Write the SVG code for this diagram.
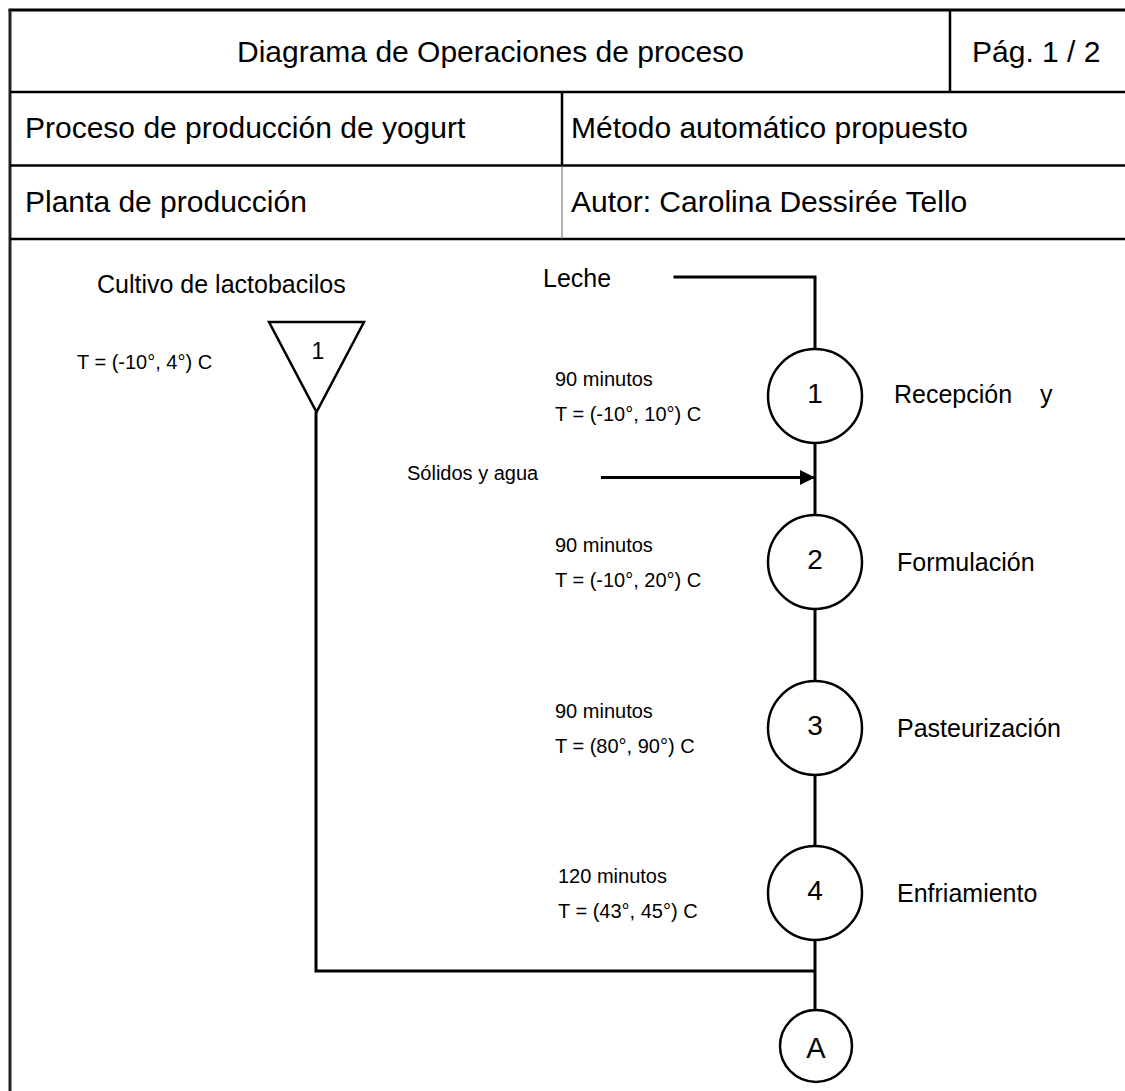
<svg xmlns="http://www.w3.org/2000/svg" width="1125" height="1091" viewBox="0 0 1125 1091">
  <style>
    text { font-family: "Liberation Sans", Arial, sans-serif; fill: #000; }
    .hdr { font-size: 30px; }
    .lbl { font-size: 25px; }
    .note { font-size: 20px; }
    .num { font-size: 28px; text-anchor: middle; }
    .frame { stroke: #000; stroke-width: 2.5; fill: none; }
    .flow { stroke: #000; stroke-width: 3; fill: none; }
    .op { stroke: #000; stroke-width: 2.5; fill: #fff; }
  </style>
  <defs>
    <marker id="arrow" markerUnits="userSpaceOnUse" markerWidth="16" markerHeight="16" refX="15" refY="7.5" orient="auto">
      <path d="M0,0 L15,7.5 L0,15 Z" fill="#000"/>
    </marker>
  </defs>

  <rect width="1125" height="1091" fill="#fff"/>

  <!-- header table -->
  <g id="header">
    <line x1="8.5" y1="10" x2="1125" y2="10" stroke="#000" stroke-width="3"/>
    <line x1="10" y1="10" x2="10" y2="1091" stroke="#222" stroke-width="3"/>
    <line class="frame" x1="10" y1="92" x2="1125" y2="92"/>
    <line class="frame" x1="10" y1="165.5" x2="1125" y2="165.5"/>
    <line class="frame" x1="10" y1="239" x2="1125" y2="239"/>
    <line class="frame" x1="950" y1="10" x2="950" y2="92"/>
    <line class="frame" x1="562" y1="92" x2="562" y2="165.5"/>
    <line x1="562" y1="165.5" x2="562" y2="239" stroke="#666" stroke-width="1"/>
    <text class="hdr" x="237" y="62">Diagrama de Operaciones de proceso</text>
    <text class="hdr" x="972" y="62">Pág. 1 / 2</text>
    <text class="hdr" x="25" y="138">Proceso de producción de yogurt</text>
    <text class="hdr" x="571" y="138">Método automático propuesto</text>
    <text class="hdr" x="25" y="212">Planta de producción</text>
    <text class="hdr" x="571" y="212">Autor: Carolina Dessirée Tello</text>
  </g>

  <!-- connectors -->
  <g id="connectors">
    <polyline class="flow" points="673.5,277 815,277 815,349"/>
    <line class="flow" x1="815" y1="443" x2="815" y2="515"/>
    <line class="flow" x1="815" y1="609" x2="815" y2="681"/>
    <line class="flow" x1="815" y1="775" x2="815" y2="846"/>
    <line class="flow" x1="815" y1="940" x2="815" y2="1010"/>
    <polyline class="flow" points="316,412 316,971 815,971"/>
    <line class="flow" x1="601" y1="477.5" x2="815" y2="477.5" marker-end="url(#arrow)"/>
  </g>

  <!-- inputs -->
  <g id="input-leche">
    <text class="lbl" x="543" y="287">Leche</text>
  </g>
  <g id="input-solidos">
    <text class="note" x="407" y="480">Sólidos y agua</text>
  </g>

  <!-- storage 1: lactobacillus culture -->
  <g id="storage-1">
    <polygon class="op" points="269,322 364,322 316.5,412"/>
    <text x="318" y="359" style="font-size:23px;text-anchor:middle">1</text>
    <text class="lbl" x="97" y="293">Cultivo de lactobacilos</text>
    <text class="note" x="77" y="369">T = (-10°, 4°) C</text>
  </g>

  <!-- operation 1 -->
  <g id="op-1">
    <circle class="op" cx="815" cy="396" r="47"/>
    <text class="num" x="815" y="403">1</text>
    <text class="lbl" x="894" y="403" xml:space="preserve">Recepción    y</text>
    <text class="note" x="555" y="386">90 minutos</text>
    <text class="note" x="555" y="420.5">T = (-10°, 10°) C</text>
  </g>

  <!-- operation 2 -->
  <g id="op-2">
    <circle class="op" cx="815" cy="562" r="47"/>
    <text class="num" x="815" y="569">2</text>
    <text class="lbl" x="897" y="571">Formulación</text>
    <text class="note" x="555" y="552">90 minutos</text>
    <text class="note" x="555" y="586.5">T = (-10°, 20°) C</text>
  </g>

  <!-- operation 3 -->
  <g id="op-3">
    <circle class="op" cx="815" cy="728" r="47"/>
    <text class="num" x="815" y="735">3</text>
    <text class="lbl" x="897" y="737">Pasteurización</text>
    <text class="note" x="555" y="718">90 minutos</text>
    <text class="note" x="555" y="752.5">T = (80°, 90°) C</text>
  </g>

  <!-- operation 4 -->
  <g id="op-4">
    <circle class="op" cx="815" cy="893" r="47"/>
    <text class="num" x="815" y="900">4</text>
    <text class="lbl" x="897" y="902">Enfriamiento</text>
    <text class="note" x="558" y="883">120 minutos</text>
    <text class="note" x="558" y="917.5">T = (43°, 45°) C</text>
  </g>

  <!-- off-page connector A -->
  <g id="connector-A">
    <circle class="op" cx="816" cy="1046" r="36"/>
    <text class="num" x="816" y="1058" style="font-size:29px">A</text>
  </g>
</svg>
